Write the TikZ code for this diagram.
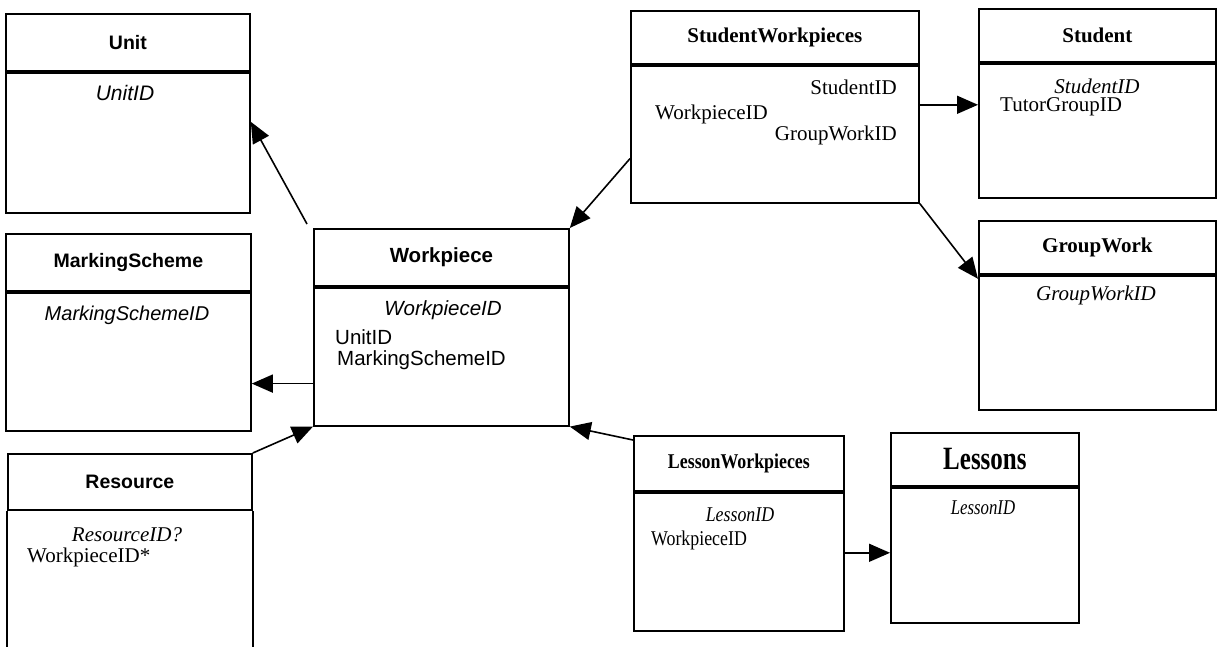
\documentclass[tikz,border=0pt]{standalone}
\usepackage{fontspec}
\setmainfont{Liberation Serif}
\setsansfont{Liberation Sans}
\usetikzlibrary{arrows.meta}
\usetikzlibrary{positioning}
\usetikzlibrary{calc}

\begin{document}
\begin{tikzpicture}[x=1pt,y=-1pt]
      \newcommand{\dbtable}[8]{%
        \node[head, minimum width=#4pt, minimum height=#5pt] (#1) at (#2,#3) {#8};
        \node[body, minimum width=#4pt, minimum height=#6pt, below=0pt of #1, #7] (#1b) {};
      }
      \newcommand{\sanstitle}[1]{{\sffamily\fontsize{19.5}{22}\selectfont #1}}
      \newcommand{\narrow}[1]{\scalebox{0.85}[1]{#1}}
      \tikzstyle{edge} = [line width=1.6pt,-{Triangle[length=21pt,width=18pt]},draw=black]
      \tikzstyle{frame} = [line width=1.8pt,draw=black]
      \tikzstyle{head} = [
        frame,
        anchor=north west,
        inner sep=0pt,
        font=\bfseries\fontsize{21}{24}\selectfont,
      ]
      \tikzstyle{body} = [frame, inner sep=0pt]
      \tikzstyle{key} = [inner sep=0pt, font=\itshape\fontsize{21}{24}\selectfont]
      \tikzstyle{attr} = [inner sep=0pt, anchor=west, font=\fontsize{21}{24}\selectfont]

      \useasboundingbox (0,0) rectangle (1219,647);

      % tables
      \dbtable{unit}{5}{13}{244}{57}{140}{}{\sanstitle{Unit}}
      \dbtable{mark}{5}{233}{245}{57}{138}{}{\sanstitle{MarkingScheme}}
      \dbtable{res}{7}{453}{244}{56}{138}{draw=none}{\sanstitle{Resource}}
      \draw[frame] (resb.south west) -- (resb.north west) (resb.north east) -- (resb.south east);
      \dbtable{work}{313}{228}{255}{57}{138}{}{{\sffamily\fontsize{20.5}{22}\selectfont Workpiece}}
      \dbtable{stuw}{630}{10}{288}{53}{137}{}{StudentWorkpieces}
      \dbtable{stud}{978}{8}{237}{53}{134}{}{Student}
      \dbtable{grp}{978}{220}{237}{53}{134}{}{GroupWork}
      \dbtable{lesw}{633}{435}{210}{55}{138}{}{\narrow{LessonWorkpieces}}
      \dbtable{less}{890}{432}{188}{53}{135}{}{{\fontsize{25}{28}\selectfont\scalebox{1}[1.3]{Lessons}}}

      % fields
      \node[key] (unitk) at (125,93) {\sffamily UnitID};
      \node[key] (markk) at (127,315) {\sffamily\fontsize{20}{24}\selectfont MarkingSchemeID};
      \node[key] (resk) at (127,535) {ResourceID?};
      \node[attr] (resa) at (27,557) {WorkpieceID*};
      \node[key] (workk) at (443,310) {\sffamily\fontsize{20.5}{24}\selectfont WorkpieceID};
      \node[attr] (worka) at (335,337) {\sffamily\fontsize{20.5}{24}\selectfont UnitID};
      \node[attr] (workc) at (337,360) {\sffamily\fontsize{20.5}{24}\selectfont MarkingSchemeID};
      \node[attr, anchor=east] (stuwa) at (897,87) {StudentID};
      \node[attr] (stuwc) at (655,114) {WorkpieceID};
      \node[attr, anchor=east] (stuwd) at (897,135) {GroupWorkID};
      \node[key] (studk) at (1097,86) {StudentID};
      \node[attr] (studa) at (1000,107) {TutorGroupID};
      \node[key] (grpk) at (1096,295) {GroupWorkID};
      \node[key] (leswk) at (740,515) {\narrow{LessonID}};
      \node[attr] (leswa) at (651,540) {\narrow{WorkpieceID}};
      \node[key] (lessk) at (983,508) {\scalebox{0.8}[1]{LessonID}};

      % links
      \coordinate (w1) at ($(workb.south west)+(0,-43)$);
      \coordinate (s1) at ($(stuwb.north east)+(0,40)$);
      \coordinate (l1) at ($(leswb.north east)+(0,61)$);
      \draw[edge] ($(work.north west)+(-6,-4)$) -- ($(unitb.north east)+(0,50)$);
      \draw[edge] (w1) -- (markb.east |- w1);
      \draw[edge] (res.north east) -- (workb.south west);
      \draw[edge] ($(stuwb.south west)+(0,-45)$) -- (work.north east);
      \draw[edge] (s1) -- (studb.west |- s1);
      \draw[edge] (stuwb.south east) -- ($(grpb.north west)+(0,4)$);
      \draw[edge] ($(lesw.north west)+(0,5)$) -- (workb.south east);
      \draw[edge] (l1) -- (lessb.west |- l1);
\end{tikzpicture}
\end{document}
